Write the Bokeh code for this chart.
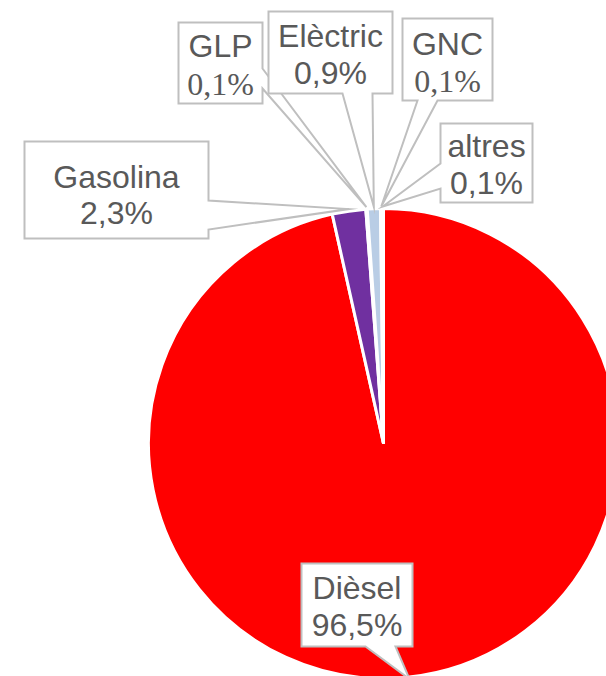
import math
import numpy as np
from bokeh.plotting import figure
from bokeh.models import ColumnDataSource
from bokeh.core.properties import value
from bokeh.embed import file_html
from bokeh.resources import INLINE

# ---- data ----
categories = ["Dièsel", "Gasolina", "GLP", "Elèctric", "GNC", "altres"]
shares = [96.5, 2.3, 0.1, 0.9, 0.1, 0.1]
colors = ["#FF0000", "#7030A0", "#A9D18E", "#B9CDE5", "#FFD966", "#C9C9C9"]
value_fonts = ["Liberation Sans", "Liberation Sans", "Liberation Serif",
               "Liberation Sans", "Liberation Serif", "Liberation Sans"]

# ---- layout (screen pixel coords of the reference) ----
CX, CY, R = 383, 443, 235
# label boxes: left, top, right, bottom ; pointer side and base span ; baselines
boxes = {
    "Dièsel":   (301, 563, 412, 646, "bottom", 365, 395, 597, 634),
    "Gasolina": (24, 141, 208, 238, "right", 200, 229, 186, 222),
    "GLP":      (178, 22, 262, 103, "right", 68, 88, 55, 93),
    "Elèctric": (268, 11, 392, 93, "bottom", 342, 372, 45, 82),
    "GNC":      (402, 18, 492, 100, "bottom", 417, 437, 53, 90),
    "altres":   (440, 123, 532, 202, "left", 163, 188, 155, 192),
}
draw_order = ["Gasolina", "GLP", "Elèctric", "GNC", "altres", "Dièsel"]
BASE_SHIFT = 10

W, H = 606, 676
p = figure(width=W, height=H, x_range=(0, W), y_range=(-H, 0),
           output_backend="svg", toolbar_location=None,
           x_axis_location=None, y_axis_location=None, min_border=0)
p.grid.visible = False
p.outline_line_color = None
p.background_fill_color = "white"
p.border_fill_color = "white"

total = float(sum(shares))
fr = np.array(shares) / total
cum = np.concatenate([[0.0], np.cumsum(fr)])
start = math.pi / 2 - 2 * math.pi * cum[:-1]
end = math.pi / 2 - 2 * math.pi * cum[1:]
mid = (cum[:-1] + cum[1:]) / 2

src = ColumnDataSource(dict(start=start, end=end, color=colors, cat=categories))
p.wedge(x=CX, y=-CY, radius=R, start_angle="start", end_angle="end",
        direction="clock", fill_color="color", line_color="white",
        line_width=3, source=src)

# callouts
xs, ys = [], []
for name in draw_order:
    i = categories.index(name)
    l, t, r, b, side, a0, a1, bl1, bl2 = boxes[name]
    th = 2 * math.pi * mid[i]
    RT = R + 2
    tip = (CX + RT * math.sin(th), CY - RT * math.cos(th))
    if side == "right":
        pts = [(l, t), (r, t), (r, a0), tip, (r, a1), (r, b), (l, b)]
    elif side == "bottom":
        pts = [(l, t), (r, t), (r, b), (a1, b), tip, (a0, b), (l, b)]
    else:
        pts = [(l, t), (r, t), (r, b), (l, b), (l, a1), tip, (l, a0)]
    xs.append([q[0] for q in pts])
    ys.append([-q[1] for q in pts])

p.patches(xs=xs, ys=ys, fill_color="white", line_color="#BFBFBF",
          line_width=2, line_join="miter")

for name in draw_order:
    i = categories.index(name)
    l, t, r, b, side, a0, a1, bl1, bl2 = boxes[name]
    cxl = (l + r) / 2
    label_val = ("%.1f" % shares[i]).replace(".", ",") + "%"
    p.text(x=[cxl], y=[-(bl1 - BASE_SHIFT)], text=[name], text_align="center",
           text_baseline="alphabetic", text_font=value("Liberation Sans"),
           text_font_size="32px", text_color="#595959")
    p.text(x=[cxl], y=[-(bl2 - BASE_SHIFT)], text=[label_val], text_align="center",
           text_baseline="alphabetic", text_font=value(value_fonts[i]),
           text_font_size="32px", text_color="#595959")

open("out.html", "w").write(file_html(p, INLINE))
